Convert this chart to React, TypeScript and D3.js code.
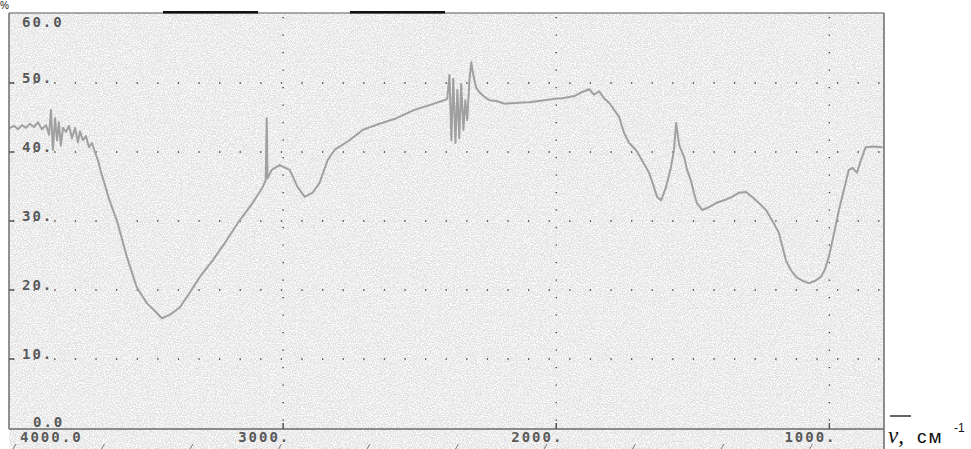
import React from "react";
import * as d3 from "d3";

// IR spectrum (wavenumber cm-1, transmittance %)
const wavenumbers = [
  4000, 3985, 3971, 3956, 3942, 3927, 3912, 3898, 3883, 3868, 3857, 3850, 3843, 3835, 3828, 3821,
  3814, 3806, 3795, 3784, 3773, 3762, 3751, 3744, 3733, 3722, 3711, 3700, 3689, 3678, 3667, 3656,
  3645, 3634, 3609, 3572, 3536, 3499, 3463, 3444, 3415, 3378, 3342, 3305, 3258, 3207, 3159, 3112,
  3075, 3064, 3060, 3057, 3042, 3013, 2976, 2947, 2921, 2892, 2867, 2837, 2812, 2757, 2709, 2647,
  2585, 2519, 2464, 2410, 2399, 2391, 2384, 2377, 2369, 2362, 2355, 2348, 2340, 2333, 2326, 2318,
  2311, 2304, 2293, 2282, 2263, 2245, 2219, 2190, 2154, 2099, 2044, 2008, 1978, 1934, 1905, 1879,
  1861, 1843, 1825, 1806, 1795, 1770, 1752, 1733, 1708, 1686, 1660, 1642, 1631, 1616, 1598, 1580,
  1569, 1561, 1550, 1532, 1521, 1507, 1496, 1485, 1466, 1441, 1415, 1386, 1356, 1331, 1305, 1283,
  1258, 1232, 1210, 1185, 1159, 1141, 1122, 1101, 1075, 1053, 1031, 1017, 1002, 984, 965, 947,
  929, 915, 899, 885, 867, 838, 808
];
const transmittance = [
  43.5, 43.8, 43.3, 43.9, 43.5, 44.1, 43.6, 44.3, 43.3, 43.9, 42.5, 46.1, 40.3, 44.9, 41.7, 44.3,
  40.9, 43.5, 42.9, 43.8, 42.0, 43.5, 41.4, 43.0, 41.7, 42.3, 40.7, 41.3, 40.0, 38.8, 37.1, 35.7,
  34.2, 32.8, 30.1, 24.8, 20.4, 18.1, 16.7, 15.9, 16.4, 17.5, 19.6, 21.9, 24.3, 27.2, 30.1, 32.6,
  34.9, 35.9, 44.9, 36.2, 37.4, 38.1, 37.4, 34.9, 33.5, 34.1, 35.5, 38.8, 40.3, 41.7, 43.2, 44.1,
  44.9, 46.1, 46.8, 47.5, 47.7, 51.2, 41.7, 50.6, 41.3, 49.0, 42.0, 49.9, 43.2, 47.5, 44.6, 50.4,
  53.0, 51.2, 49.3, 48.7, 48.0, 47.5, 47.4, 47.0, 47.1, 47.2, 47.5, 47.7, 47.8, 48.1, 48.7, 49.1,
  48.3, 48.8, 47.8, 47.1, 46.5, 45.1, 42.8, 41.3, 40.3, 38.8, 37.0, 34.9, 33.5, 33.0, 34.9, 37.8,
  40.3, 44.2, 41.0, 39.3, 37.4, 35.9, 34.1, 32.6, 31.6, 32.0, 32.6, 33.0, 33.5, 34.1, 34.2, 33.5,
  32.6, 31.6, 30.1, 28.3, 24.3, 22.9, 21.9, 21.4, 21.0, 21.3, 21.9, 22.9, 24.8, 28.0, 31.6, 34.5,
  37.4, 37.7, 37.0, 38.8, 40.7, 40.8, 40.7
];

const yTicks = [10, 20, 30, 40, 50];
const yTickLabels = ["10.", "20.", "30.", "40.", "50."];
const xTicks = [3000, 2000, 1000];
const xTickLabels = ["3000.", "2000.", "1000."];

const W = 971;
const H = 449;
const left = 9;
const right = 884;
const top = 13;
const bottom = 429;

export default function App() {
  const x = d3.scaleLinear().domain([4000, 800]).range([10, 884]);
  const y = d3.scaleLinear().domain([0, 60]).range([428, 14]);

  const points = wavenumbers.map((w, i) => [w, transmittance[i]] as [number, number]);
  const line = d3
    .line<[number, number]>()
    .x(d => x(d[0]))
    .y(d => y(d[1]));

  const labelFont = {
    fontFamily: "'DejaVu Sans Mono', monospace",
    fontWeight: 700,
    fontSize: 14,
    letterSpacing: 2,
    fill: "#595959"
  } as const;

  // little marks of the cut-off lower scale
  const lowerMarks = d3.range(13, right, 88.5);

  return (
    <svg
      width={W}
      height={H}
      style={{ position: "fixed", left: 0, top: 0, background: "#fff" }}
    >
      <defs>
        <filter id="speckle" x="0" y="0" width="100%" height="100%">
          <feTurbulence type="fractalNoise" baseFrequency="0.85" numOctaves="2" seed="7" result="t" />
          <feColorMatrix
            in="t"
            type="matrix"
            values="0 0 0 0 1  0 0 0 0 1  0 0 0 0 1  3.2 0 0 0 -1.2"
          />
        </filter>
        <clipPath id="plot">
          <rect x={left} y={top} width={right - left} height={bottom - top} />
        </clipPath>
      </defs>

      {/* textured background */}
      <rect x={left} y={top} width={right - left} height={H - top} fill="#e0e0e0" />
      <rect x={left} y={top} width={right - left} height={H - top} filter="url(#speckle)" />

      {/* dotted grid */}
      {yTicks.map(t => (
        <line
          key={"gy" + t}
          x1={left + 4}
          x2={right}
          y1={y(t)}
          y2={y(t)}
          stroke="#3a3a3a"
          strokeWidth={1.3}
          strokeDasharray="1.3 19.3"
        />
      ))}
      {xTicks.map(t => (
        <line
          key={"gx" + t}
          x1={x(t)}
          x2={x(t)}
          y1={top + 4}
          y2={bottom}
          stroke="#3a3a3a"
          strokeWidth={1.3}
          strokeDasharray="1.3 16.2"
        />
      ))}

      {/* spectrum */}
      <g clipPath="url(#plot)">
        <path
          d={line(points) || ""}
          fill="none"
          stroke="#a0a0a0"
          strokeWidth={2}
          strokeLinejoin="round"
          strokeLinecap="round"
        />
      </g>

      {/* frame */}
      <line x1={left} x2={right} y1={top} y2={top} stroke="#8c8c8c" strokeWidth={1.5} />
      <line x1={left} x2={left} y1={top} y2={bottom} stroke="#6e6e6e" strokeWidth={1.5} />
      <line x1={right} x2={right} y1={top} y2={H} stroke="#6a6a6a" strokeWidth={1.5} />
      <line x1={left} x2={right} y1={bottom} y2={bottom} stroke="#6a6a6a" strokeWidth={1.5} />
      <rect x={163} y={11} width={95} height={2.5} fill="#111" />
      <rect x={350} y={11} width={95} height={2.5} fill="#111" />

      {/* y ticks and labels */}
      {yTicks.map((t, i) => (
        <g key={"ty" + t}>
          <line x1={left} x2={left + 5} y1={y(t)} y2={y(t)} stroke="#555" strokeWidth={1.5} />
          <text x={22} y={y(t)} {...labelFont}>
            {yTickLabels[i]}
          </text>
        </g>
      ))}
      <text x={22} y={27} {...labelFont}>60.0</text>
      <text x={33} y={427} {...labelFont}>0.0</text>

      {/* x ticks and labels */}
      {xTicks.map((t, i) => (
        <g key={"tx" + t}>
          <line x1={x(t)} x2={x(t)} y1={bottom - 6} y2={bottom} stroke="#555" strokeWidth={1.5} />
          <text x={x(t) - 45} y={442} {...labelFont}>
            {xTickLabels[i]}
          </text>
        </g>
      ))}
      <text x={20} y={442} {...labelFont}>4000.0</text>

      {lowerMarks.map(m => (
        <line key={"lm" + m} x1={m} x2={m + 3} y1={449} y2={444} stroke="#777" strokeWidth={1} />
      ))}

      {/* units */}
      <text x={0} y={9} fontFamily="'Liberation Sans', Arial, sans-serif" fontSize={10} fill="#222">%</text>
      <line x1={890} x2={911} y1={416} y2={416} stroke="#111" strokeWidth={1.3} />
      <text x={888} y={443} fontFamily="'Liberation Serif', 'Times New Roman', serif" fontStyle="italic" fontSize={23} fill="#111">
        ν,
      </text>
      <text x={917} y={443} fontFamily="'Liberation Sans', Arial, sans-serif" fontSize={19} letterSpacing={2} fill="#111">
        см
      </text>
      <text x={954} y={432} fontFamily="'Liberation Sans', Arial, sans-serif" fontSize={12} fill="#111">
        -1
      </text>
    </svg>
  );
}
